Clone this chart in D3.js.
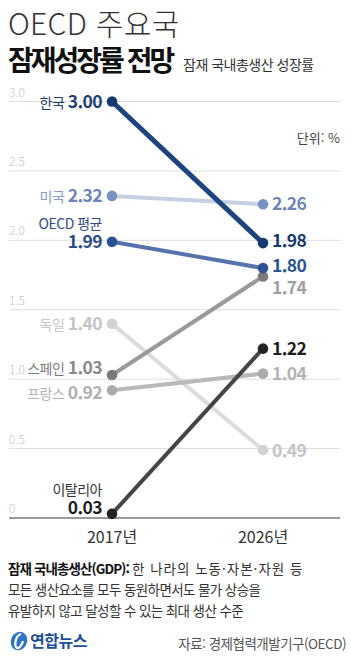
<!DOCTYPE html>
<html lang="ko">
<head>
<meta charset="UTF-8" />
<title>OECD 주요국 잠재성장률 전망</title>
<script src="https://d3js.org/d3.v7.min.js"></script>
<style>
  body { margin: 0; background: #fff; }
  svg { display: block; font-family: "Noto Sans CJK KR", "Noto Sans", sans-serif; }
</style>
</head>
<body>
<svg width="351" height="660"></svg>
<script>
// 데이터
const years = ["2017년", "2026년"];
const countries = ["독일", "미국", "프랑스", "스페인", "OECD 평균", "이탈리아", "한국"];
const v2017 = [1.40, 2.32, 0.92, 1.03, 1.99, 0.03, 3.00];
const v2026 = [0.49, 2.26, 1.04, 1.74, 1.80, 1.22, 1.98];
const yTicks = [0, 0.5, 1.0, 1.5, 2.0, 2.5, 3.0];
const tickLabels = ["0", "0.5", "1.0", "1.5", "2.0", "2.5", "3.0"];

// 스타일 (국가 순서와 동일)
const lineColor = ["#dcdcdc", "#c6d0e3", "#b9b9b9", "#9a9a9a", "#5673ad", "#454545", "#1e447f"];
const dotColor  = ["#d2d2d2", "#7891c2", "#ababab", "#7a7a7a", "#2b5296", "#222222", "#163a6e"];
const nameColor = ["#c6c6c6", "#8a9cc6", "#b3b3b3", "#7d7d7d", "#2f4c80", "#333333", "#1f3f73"];
const valColor  = ["#c4c4c4", "#6b85b9", "#b0b0b0", "#8a8a8a", "#2a4d86", "#1e1e1e", "#1d3f73"];
const valColorR = ["#c4c4c4", "#6b85b9", "#b3b3b3", "#a0a0a0", "#2a5296", "#1e1e1e", "#173a6e"];
const lineWidth = [4, 4, 4, 4, 4, 4, 5];
// 라벨 위치 보정 (px)
const leftDy  = [0, 0, 3, -7, 0, -6, 0];
const rightDy = [1, 0, 0, 12, -2, 0, -2];
const stacked = [false, false, false, false, true, true, false];

const svg = d3.select("svg");
const x = d3.scalePoint().domain(years).range([112, 263]);
const y = d3.scaleLinear().domain([0, 3]).range([518, 101.5]);

// 제목
svg.append("text").attr("x", 8).attr("y", 35)
  .style("font-size", "30px").style("font-weight", 200).style("letter-spacing", "0.3px")
  .attr("fill", "#333").text("OECD 주요국");
svg.append("text").attr("x", 8).attr("y", 71)
  .style("font-size", "28px").style("font-weight", 700).style("letter-spacing", "-3px")
  .attr("fill", "#111").text("잠재성장률 전망");
svg.append("text").attr("x", 183).attr("y", 70)
  .style("font-size", "14px").style("letter-spacing", "-0.5px")
  .attr("fill", "#333").text("잠재 국내총생산 성장률");

// 그리드
const grid = svg.append("g");
yTicks.forEach((t, i) => {
  grid.append("line")
    .attr("x1", 9).attr("x2", 340)
    .attr("y1", y(t)).attr("y2", y(t))
    .attr("stroke", t === 0 ? "#777" : "#dedede")
    .attr("stroke-width", t === 0 ? 1.6 : 1);
  grid.append("text").attr("x", 9).attr("y", y(t) - 5)
    .style("font-size", "12px").style("font-weight", 300)
    .attr("fill", "#c4c4c4").text(tickLabels[i]);
});

svg.append("text").attr("x", 340).attr("y", 143).attr("text-anchor", "end")
  .style("font-size", "13px").attr("fill", "#444").text("단위: %");

// 선과 점
countries.forEach((c, i) => {
  const g = svg.append("g");
  g.append("line")
    .attr("x1", x(years[0])).attr("y1", y(v2017[i]))
    .attr("x2", x(years[1])).attr("y2", y(v2026[i]))
    .attr("stroke", lineColor[i]).attr("stroke-width", lineWidth[i]);
  [v2017[i], v2026[i]].forEach((v, j) => {
    g.append("circle").attr("cx", x(years[j])).attr("cy", y(v))
      .attr("r", 5.3).attr("fill", dotColor[i]);
  });
});

// 라벨
countries.forEach((c, i) => {
  const lx = x(years[0]) - 10;
  const ly = y(v2017[i]) + leftDy[i] + 6;
  const t = svg.append("text").attr("x", lx).attr("y", ly).attr("text-anchor", "end");
  if (stacked[i]) {
    svg.append("text").attr("x", lx).attr("y", ly - 19).attr("text-anchor", "end")
      .style("font-size", "14px").style("letter-spacing", "-0.5px")
      .attr("fill", nameColor[i]).text(c);
  } else {
    t.append("tspan").style("font-size", "14px").style("letter-spacing", "-0.5px")
      .attr("fill", nameColor[i]).text(c + " ");
  }
  t.append("tspan").style("font-size", "17.5px").style("font-weight", 700)
    .style("letter-spacing", "-0.6px").attr("fill", valColor[i]).text(v2017[i].toFixed(2));

  svg.append("text").attr("x", x(years[1]) + 9).attr("y", y(v2026[i]) + rightDy[i] + 6)
    .style("font-size", "17.5px").style("font-weight", 700).style("letter-spacing", "-0.6px")
    .attr("fill", valColorR[i]).text(v2026[i].toFixed(2));
});

// x축 라벨
years.forEach(yr => {
  svg.append("text").attr("x", x(yr)).attr("y", 543).attr("text-anchor", "middle")
    .style("font-size", "16px").attr("fill", "#333").text(yr);
});

// 주석
const note = svg.append("g").style("font-size", "13.5px").style("letter-spacing", "-0.6px").attr("fill", "#333");
const n1 = note.append("text").attr("x", 8).attr("y", 574);
n1.append("tspan").style("font-weight", 700).style("letter-spacing", "-0.9px")
  .attr("fill", "#111").text("잠재 국내총생산(GDP): ");
n1.append("tspan").style("letter-spacing", "1px").text("한 나라의 노동·자본·자원 등");
note.append("text").attr("x", 8).attr("y", 595).text("모든 생산요소를 모두 동원하면서도 물가 상승을");
note.append("text").attr("x", 8).attr("y", 616).text("유발하지 않고 달성할 수 있는 최대 생산 수준");

// 로고
const logo = svg.append("g");
logo.append("ellipse").attr("cx", 19).attr("cy", 641).attr("rx", 8).attr("ry", 9.5)
  .attr("transform", "rotate(25,19,641)").attr("fill", "#2f74c8");
logo.append("path").attr("d", "M21,634 C15,636 14,646 17,648 C19,649 22,645 23,641")
  .attr("fill", "none").attr("stroke", "#fff").attr("stroke-width", 2.2);
logo.append("text").attr("x", 30).attr("y", 647)
  .style("font-size", "16px").style("font-weight", 700).style("letter-spacing", "-0.5px")
  .attr("fill", "#1b4f9c").text("연합뉴스");

svg.append("text").attr("x", 346).attr("y", 649).attr("text-anchor", "end")
  .style("font-size", "13.5px").style("letter-spacing", "-0.5px")
  .attr("fill", "#555").text("자료: 경제협력개발기구(OECD)");
</script>
</body>
</html>
